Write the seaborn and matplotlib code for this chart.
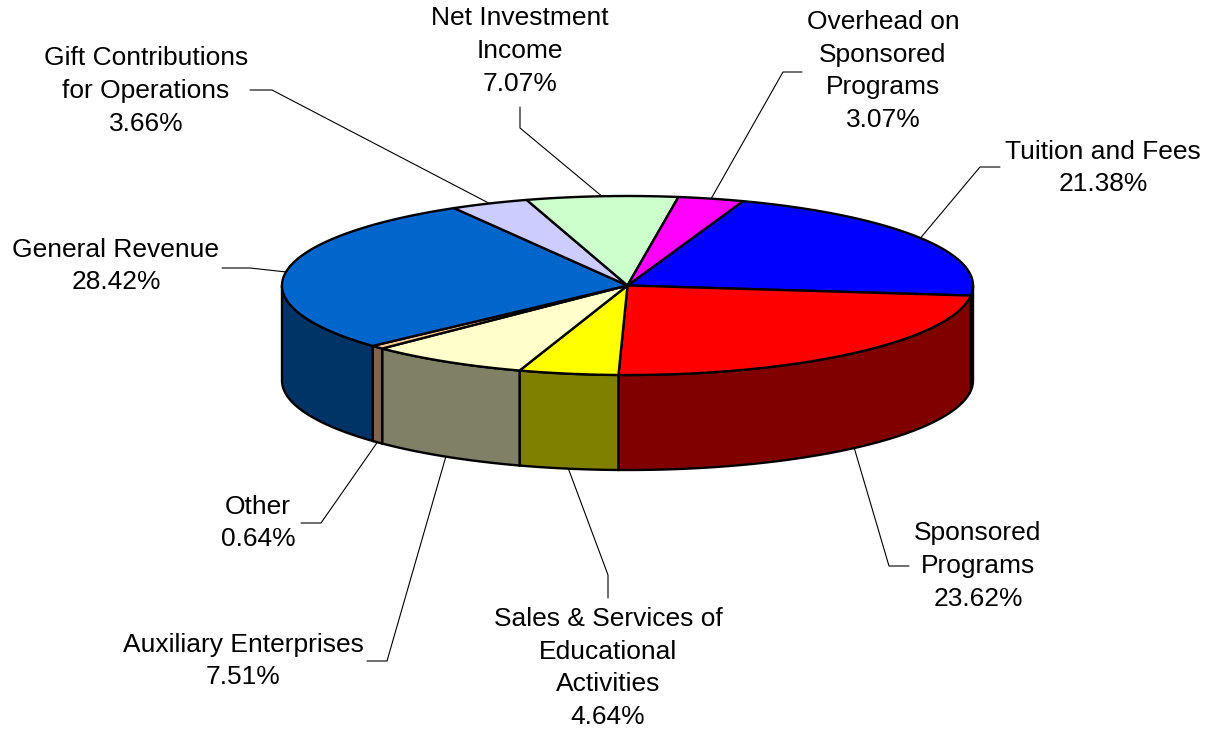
import numpy as np
import matplotlib
matplotlib.use("Agg")
import matplotlib.pyplot as plt
import matplotlib.colors as mcolors
import seaborn as sns
from matplotlib.patches import Polygon

# --- Data (clockwise from the top-right) ---
labels = [
    "Tuition and Fees",
    "Sponsored\nPrograms",
    "Sales & Services of\nEducational\nActivities",
    "Auxiliary Enterprises",
    "Other",
    "General Revenue",
    "Gift Contributions\nfor Operations",
    "Net Investment\nIncome",
    "Overhead on\nSponsored\nPrograms",
]
shares = [21.38, 23.62, 4.64, 7.51, 0.64, 28.42, 3.66, 7.07, 3.07]
top_colors = ["#0000FF", "#FF0000", "#FFFF00", "#FFFFCC", "#FFCC99",
              "#0066CC", "#CCCCFF", "#CCFFCC", "#FF00FF"]

# --- Layout (pixel space) ---
W, H = 1207, 731
CX, CY = 627.5, 285.5
RX, RY = 345.5, 89.5
DEPTH = 95
START = 70.5

# label centre, elbow point, leader end
label_layout = [
    ((1103, 168), (980, 167), (1000, 167)),
    ((978, 566), (889, 566), (909, 566)),
    ((608, 668), (608, 575), (608, 598)),
    ((243, 661), (387, 661), (367, 661)),
    ((258, 523), (321, 523), (301, 523)),
    ((116, 266), (250, 268), (222, 268)),
    ((146, 91), (272, 90), (250, 90)),
    ((520, 51), (520, 128), (520, 107)),
    ((883, 71), (783, 72), (802, 72)),
]


def ellipse_pt(t_deg, drop=0.0):
    t = np.radians(t_deg)
    return CX + RX * np.cos(t), CY - RY * np.sin(t) + drop


def arc(a, b, drop=0.0, n=None):
    n = n or max(2, int(abs(b - a) * 2) + 2)
    ts = np.linspace(a, b, n)
    xs, ys = ellipse_pt(ts, drop)
    return np.column_stack([xs, ys])


sns.set_style("white")
plt.rcParams["font.family"] = ["Liberation Sans", "DejaVu Sans"]

fig = plt.figure(figsize=(W / 100, H / 100), dpi=100)
ax = fig.add_axes([0, 0, 1, 1])
ax.set_xlim(0, W)
ax.set_ylim(H, 0)
ax.axis("off")

cum = np.concatenate([[0], np.cumsum(shares)])
theta_hi = START - 3.6 * cum[:-1]
theta_lo = START - 3.6 * cum[1:]

# side walls (front half only: -180..0)
for hi, lo, col in zip(theta_hi, theta_lo, top_colors):
    a, b = max(lo, -180.0), min(hi, 0.0)
    if b <= a:
        continue
    side = tuple(0.5 * c for c in mcolors.to_rgb(col))
    pts = np.vstack([arc(b, a), arc(a, b, DEPTH)])
    ax.add_patch(Polygon(pts, closed=True, facecolor=side,
                         edgecolor="black", lw=1.7, zorder=2))

# top faces
for hi, lo, col in zip(theta_hi, theta_lo, top_colors):
    pts = np.vstack([[CX, CY], arc(hi, lo)])
    ax.add_patch(Polygon(pts, closed=True, facecolor=col,
                         edgecolor="black", lw=1.7, zorder=3,
                         joinstyle="round"))

# labels with leader lines
for hi, lo, lab, val, (txt, elbow, end) in zip(
        theta_hi, theta_lo, labels, shares, label_layout):
    mid = (hi + lo) / 2
    front = np.sin(np.radians(mid)) < 0
    px, py = ellipse_pt(mid, DEPTH if front else 0.0)
    ax.plot([px, elbow[0], end[0]], [py, elbow[1], end[1]],
            color="black", lw=0.8, zorder=1)
    ax.text(txt[0], txt[1], f"{lab}\n{val:.2f}%", ha="center", va="center",
            fontsize=19, linespacing=1.46, color="black", zorder=4)

fig.savefig("out.png", dpi=100, facecolor="white")
